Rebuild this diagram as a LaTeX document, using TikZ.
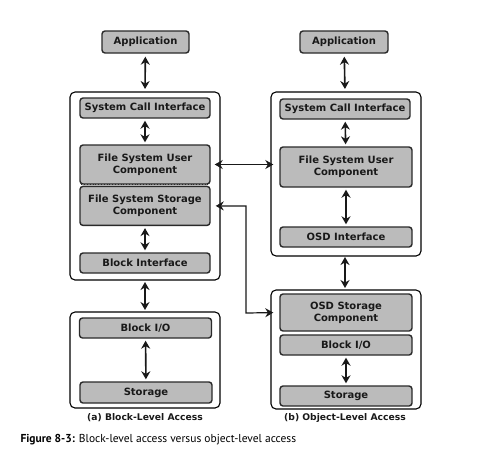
\documentclass[tikz,border=0pt]{standalone}
\usepackage{fontspec}
\setmainfont{PT Sans}
\newfontfamily\boxfont{DejaVu Sans}
\usepackage{xcolor}
\usepackage{tikz}
\usetikzlibrary{positioning, arrows.meta}
\usetikzlibrary{calc}
\definecolor{layerfill}{HTML}{BBBBBB}
\definecolor{layerline}{HTML}{2A2A2A}

\tikzset{
	layer/.style={draw=layerline, line width=1.4pt, fill=layerfill, rounded corners=3pt,
		text=black!90, font=\boxfont\bfseries\fontsize{10}{12}\selectfont, align=center,
		inner sep=0pt},
	host/.style={draw=black, line width=1.1pt, rounded corners=5pt},
	link/.style={line width=1.6pt, black!90, {Stealth[length=8pt,width=9pt]}-{Stealth[length=8pt,width=9pt]}},
	sub/.style={font=\boxfont\bfseries\fontsize{9.2}{11}\selectfont, text=black!90}
}

\begin{document}
\begin{tikzpicture}[x=1pt, y=-1pt]
			\useasboundingbox (0,0) rectangle (478,464);
			% outer boxes
			\draw[host] (70,92) rectangle (220,280);
			\draw[host] (70,312) rectangle (220,408);
			\draw[host] (271,92) rectangle (421,256);
			\draw[host] (271,290) rectangle (421,409);
			\coordinate (hostA top) at (145,92);
			\coordinate (hostA bot) at (145,280);
			\coordinate (diskA top) at (145,312);
			\coordinate (hostB top) at (345,92);
			\coordinate (hostB bot) at (345,256);
			\coordinate (diskB top) at (345,290);
			
			% draw node (a)
			\node[layer, minimum width=87pt, minimum height=22pt] (appA) at (145.5,42) {Application};
			\node[layer, minimum width=130pt, minimum height=20pt] (sciA) at (145,108) {System Call Interface};
			\node[layer, minimum width=130pt, minimum height=39pt] (fsuA) at (145,164.5) {File System User\\Component};
			\node[layer, minimum width=130pt, minimum height=39pt, below=1pt of fsuA] (fssA) {File System Storage\\Component};
			\node[layer, minimum width=130pt, minimum height=20pt] (biA) at (145,263) {Block Interface};
			\node[layer, minimum width=132pt, minimum height=20pt] (bioA) at (145.5,328) {Block I/O};
			\node[layer, minimum width=132pt, minimum height=21pt] (stA) at (146,392.5) {Storage};
			\node[sub] (capA) at (145,418) {(a) Block-Level Access};
			\draw[layerline, dotted, line width=0.8pt] ($(fsuA.south west)+(2pt,0)$) -- ($(fsuA.south east)+(-2pt,0)$);
			
			% draw node (b)
			\node[layer, minimum width=88pt, minimum height=22pt] (appB) at (344,42) {Application};
			\node[layer, minimum width=130pt, minimum height=20pt] (sciB) at (345,109) {System Call Interface};
			\node[layer, minimum width=132pt, minimum height=40pt] (fsuB) at (346,167) {File System User\\Component};
			\node[layer, minimum width=132pt, minimum height=20pt] (osdiB) at (346,237) {OSD Interface};
			\node[layer, minimum width=132pt, minimum height=37pt] (osdsB) at (346,312.5) {OSD Storage\\Component};
			\node[layer, minimum width=132pt, minimum height=20pt] (bioB) at (346,345) {Block I/O};
			\node[layer, minimum width=132pt, minimum height=20pt] (stB) at (346,396) {Storage};
			\node[sub] (capB) at (345,418) {(b) Object-Level Access};
			
			% arrows
			\draw[link, shorten <=3pt, shorten >=3pt] (appA) -- (hostA top);
			\draw[link, shorten <=2pt, shorten >=2pt] (sciA) -- (fsuA);
			\draw[link, shorten <=2pt, shorten >=2pt] (fssA) -- (biA);
			\draw[link, shorten <=2pt, shorten >=2pt] (hostA bot) -- (diskA top);
			\draw[link, shorten <=2pt, shorten >=2pt] (bioA) -- (stA);
			\draw[link, shorten <=3pt, shorten >=3pt] (appB) -- (hostB top);
			\draw[link, shorten <=2pt, shorten >=2pt] (sciB) -- (fsuB);
			\draw[link, shorten <=2pt, shorten >=2pt] (fsuB) -- (osdiB);
			\draw[link, shorten <=1pt, shorten >=2pt] (hostB bot) -- (diskB top);
			\draw[link, shorten <=2pt, shorten >=2pt] (bioB) -- (stB);
			\draw[link, line width=1.2pt, shorten <=4pt, shorten >=6pt] (fsuA.east) -- (fsuA.east -| fsuB.west);
			\draw[link, line width=1.2pt, shorten <=5pt, shorten >=6pt] (fssA.east) -| (246,313) -- (osdsB.west);
			
			\node[anchor=west, font=\fontsize{11.5}{13}\selectfont] (fig) at (17,440) {\textbf{Figure 8-3:} Block-level access versus object-level access};
		\end{tikzpicture}
\end{document}
